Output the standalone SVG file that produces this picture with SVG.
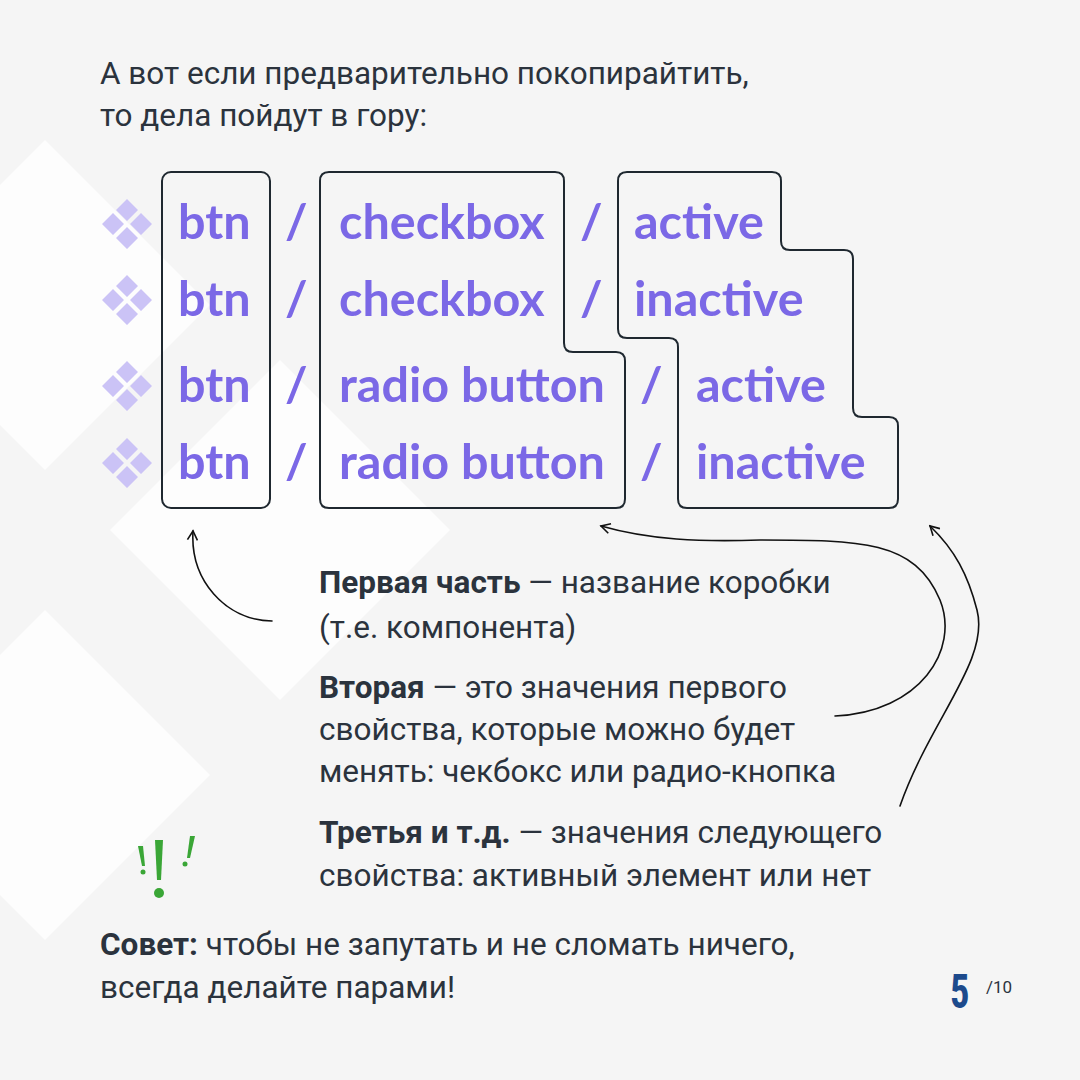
<svg xmlns="http://www.w3.org/2000/svg" width="1080" height="1080" viewBox="0 0 1080 1080">
<defs>
<style>
.t{font-family:Roboto,"Noto Sans",sans-serif;font-size:31.5px;fill:#2b333d}
.b{font-weight:700}
.p{font-family:Lato,"Noto Sans",sans-serif;font-weight:700;font-size:48.5px;fill:#7b68e6}
.box{fill:none;stroke:#1f2830;stroke-width:2}
.c{fill:none;stroke:#111;stroke-width:1.6;stroke-linecap:round}
.d{fill:#cbc3f6}
</style>
<marker id="ah" viewBox="0 0 12 12" refX="10" refY="6" markerWidth="12" markerHeight="12" markerUnits="userSpaceOnUse" orient="auto"><path d="M1,1 L10,6 L1,11" fill="none" stroke="#111" stroke-width="1.6"/></marker>
<g id="dm"><path class="d" d="M0,-25 l11,11 l-11,11 l-11,-11z M0,3 l11,11 l-11,11 l-11,-11z M-14,-11 l11,11 l-11,11 l-11,-11z M14,-11 l11,11 l-11,11 l-11,-11z"/></g>
</defs>
<rect width="1080" height="1080" fill="#f5f5f5"/>
<g fill="#ffffff" opacity="0.8">
<polygon points="45,140 210,305 45,470 -120,305"/>
<polygon points="280,360 450,530 280,700 110,530"/>
<polygon points="45,610 210,775 45,940 -120,775"/>
</g>
<text class="t" x="100" y="84">А вот если предварительно покопирайтить,</text>
<text class="t" x="100" y="126">то дела пойдут в гору:</text>
<g id="icons">
<use href="#dm" x="127" y="224"/><use href="#dm" x="127" y="300"/><use href="#dm" x="127" y="386"/><use href="#dm" x="127" y="463"/>
</g>
<g id="box1"><rect class="box" x="162" y="172" width="108" height="336" rx="9"/></g>
<g id="box2"><path class="box" d="M329,172 H555 Q564,172 564,181 V343 Q564,352 573,352 H616 Q625,352 625,361 V499 Q625,508 616,508 H329 Q320,508 320,499 V181 Q320,172 329,172Z"/></g>
<g id="box3"><path class="box" d="M627,172 H772 Q781,172 781,181 V241 Q781,250 790,250 H844 Q853,250 853,259 V408 Q853,417 862,417 H889 Q898,417 898,426 V499 Q898,508 889,508 H687 Q678,508 678,499 V347 Q678,338 669,338 H627 Q618,338 618,329 V181 Q618,172 627,172Z"/></g>
<g id="labels">
<text class="p" x="178" y="239">btn</text><text class="p" x="285" y="239">/</text><text class="p" x="339" y="239">checkbox</text><text class="p" x="580" y="239">/</text><text class="p" x="634" y="239">active</text>
<text class="p" x="178" y="316">btn</text><text class="p" x="285" y="316">/</text><text class="p" x="339" y="316">checkbox</text><text class="p" x="580" y="316">/</text><text class="p" x="634" y="316">inactive</text>
<text class="p" x="178" y="402">btn</text><text class="p" x="285" y="402">/</text><text class="p" x="339" y="402">radio button</text><text class="p" x="640" y="402">/</text><text class="p" x="696" y="402">active</text>
<text class="p" x="178" y="479">btn</text><text class="p" x="285" y="479">/</text><text class="p" x="339" y="479">radio button</text><text class="p" x="640" y="479">/</text><text class="p" x="696" y="479">inactive</text>
</g>
<g id="connectors">
<path class="c" marker-end="url(#ah)" d="M272,621 C225,620 190,580 193,531"/>
<path class="c" marker-end="url(#ah)" d="M835,716 C920,712 960,650 940,600 C915,540 860,540 760,540 C700,542 650,540 601,526"/>
<path class="c" marker-end="url(#ah)" d="M900,806 C930,720 990,660 977,610 C968,575 955,550 930,526"/>
</g>
<g id="notes">
<text class="t" x="319" y="593"><tspan class="b">Первая часть</tspan> — название коробки</text>
<text class="t" x="319" y="638">(т.е. компонента)</text>
<text class="t" x="319" y="698"><tspan class="b">Вторая</tspan> — это значения первого</text>
<text class="t" x="319" y="740">свойства, которые можно будет</text>
<text class="t" x="319" y="782">менять: чекбокс или радио-кнопка</text>
<text class="t" x="319" y="843"><tspan class="b">Третья и т.д.</tspan> — значения следующего</text>
<text class="t" x="319" y="886">свойства: активный элемент или нет</text>
</g>
<g id="excl" fill="#3aa636">
<path d="M155,840 h8 l-2,40 h-4z"/><circle cx="159" cy="893" r="5"/>
<path d="M138,846 h5 l2,20 h-3z"/><circle cx="143" cy="872" r="2.5"/>
<path d="M190,836 h5 l-5,22 h-3z"/><circle cx="185" cy="864" r="2.5"/>
</g>
<text class="t" x="100" y="955"><tspan class="b">Совет:</tspan> чтобы не запутать и не сломать ничего,</text>
<text class="t" x="100" y="998">всегда делайте парами!</text>
<text x="950" y="1008" font-family="'Roboto Condensed',Roboto,sans-serif" font-weight="700" font-size="48" fill="#1d4a8c" transform="translate(950 0) scale(0.8 1) translate(-950 0)">5</text>
<text x="986" y="993" font-family="Roboto,sans-serif" font-size="17" fill="#2b333d">/10</text>
</svg>
